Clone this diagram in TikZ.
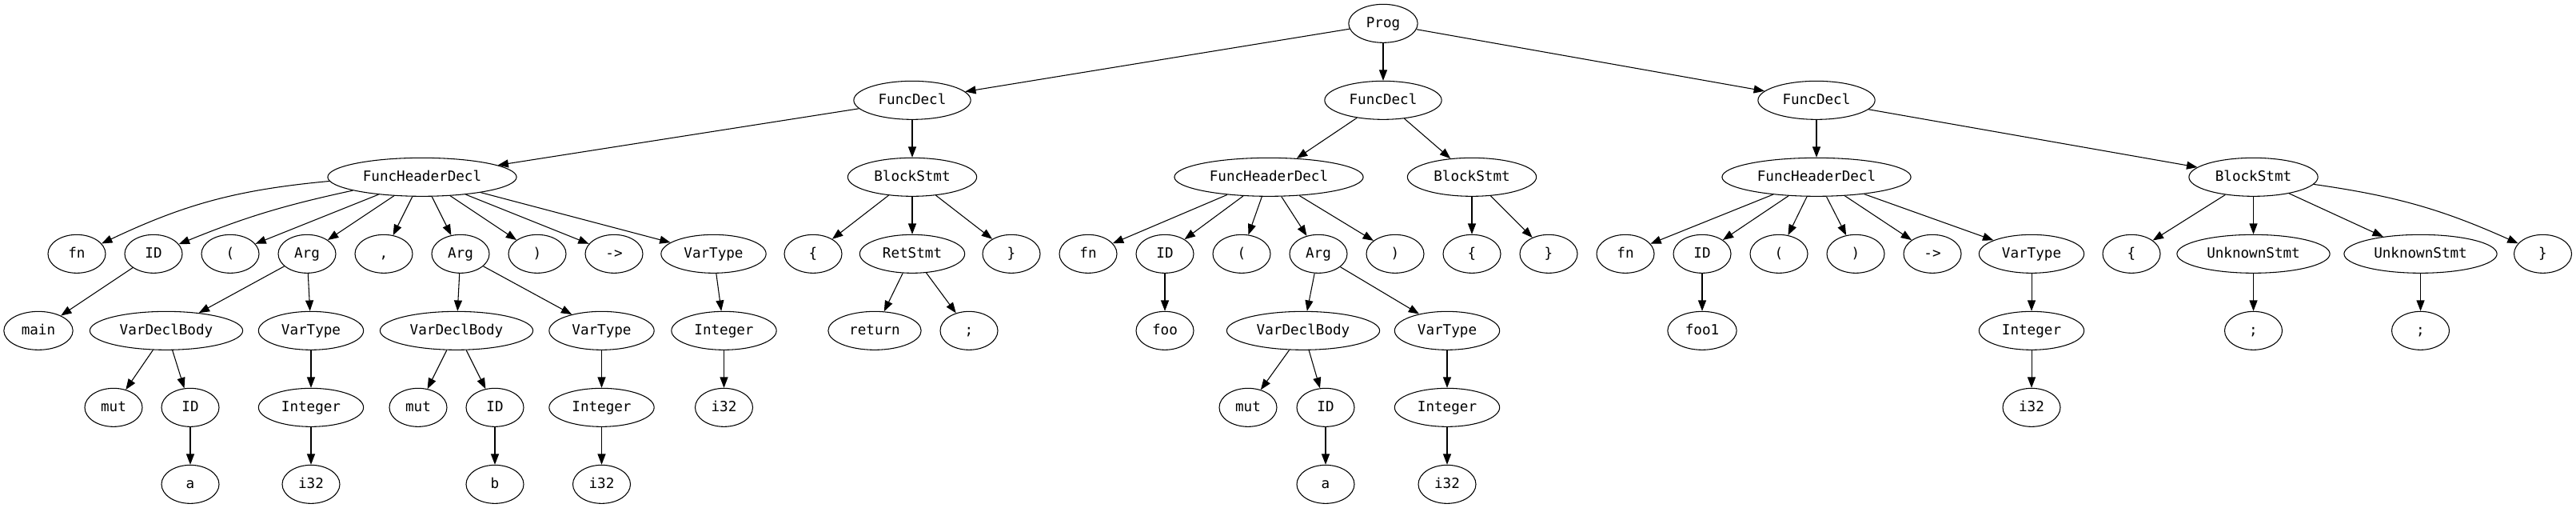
\documentclass[tikz,border=0pt]{standalone}
\usepackage{fontspec}
\setmonofont{DejaVu Sans Mono}
\usetikzlibrary{arrows.meta,shapes}
\tikzset{
>={Triangle[length=10pt,width=7.5pt]},
ast/.style={draw,ellipse,line width=0.8pt,minimum width=54pt,minimum height=36pt,
  inner xsep=7pt,text height=10pt,text depth=2pt,font=\ttfamily\fontsize{13.2}{15}\selectfont}
}

\begin{document}
\begin{tikzpicture}[x=0.75pt,y=-72pt]
\useasboundingbox (0pt,22pt) rectangle (2416.5pt,-454.25pt);
% top
\node[ast] (prog) at (1730,0) {Prog};
\node[ast] (fd1)  at (1141,1) {FuncDecl};
\node[ast] (fd2)  at (1730,1) {FuncDecl};
\node[ast] (fd3)  at (2272,1) {FuncDecl};
\node[ast] (fhd1) at (528,2)  {FuncHeaderDecl};
\node[ast] (bs1)  at (1141,2) {BlockStmt};
\node[ast] (fhd2) at (1587,2) {FuncHeaderDecl};
\node[ast] (bs2)  at (1841,2) {BlockStmt};
\node[ast] (fhd3) at (2272,2) {FuncHeaderDecl};
\node[ast] (bs3)  at (2818.5,2) {BlockStmt};
% row 3
\node[ast] (fn1)   at (96,3)   {fn};
\node[ast] (id1)   at (192,3)  {ID};
\node[ast] (lp1)   at (288,3)  {(};
\node[ast] (arg1)  at (384,3)  {Arg};
\node[ast] (comma) at (480,3)  {,};
\node[ast] (arg2)  at (576,3)  {Arg};
\node[ast] (rp1)   at (672,3)  {)};
\node[ast] (arr1)  at (768,3)  {->};
\node[ast] (vt1)   at (892.5,3) {VarType};
\node[ast] (lb1)   at (1017,3) {\{};
\node[ast] (ret)   at (1141,3) {RetStmt};
\node[ast] (rb1)   at (1265,3) {\}};
\node[ast] (fn2)   at (1361,3) {fn};
\node[ast] (id2)   at (1457,3) {ID};
\node[ast] (lp2)   at (1553,3) {(};
\node[ast] (arg3)  at (1649,3) {Arg};
\node[ast] (rp2)   at (1745,3) {)};
\node[ast] (lb2)   at (1841,3) {\{};
\node[ast] (rb2)   at (1937,3) {\}};
\node[ast] (fn3)   at (2033,3) {fn};
\node[ast] (id3)   at (2129,3) {ID};
\node[ast] (lp3)   at (2225,3) {(};
\node[ast] (rp3)   at (2321,3) {)};
\node[ast] (arr3)  at (2417,3) {->};
\node[ast] (vt3)   at (2541,3) {VarType};
\node[ast] (lb3)   at (2666,3) {\{};
\node[ast] (us1)   at (2818.5,3) {UnknownStmt};
\node[ast] (us2)   at (3027.5,3) {UnknownStmt};
\node[ast] (rb3)   at (3180.5,3) {\}};
% row 4
\node[ast] (main)  at (48,4)    {main};
\node[ast] (vdb1)  at (208,4)   {VarDeclBody};
\node[ast] (vt1b)  at (389,4)   {VarType};
\node[ast] (vdb2)  at (571,4)   {VarDeclBody};
\node[ast] (vt2)   at (752.5,4) {VarType};
\node[ast] (int1)  at (905.5,4) {Integer};
\node[ast] (retkw) at (1094,4)  {return};
\node[ast] (semi1) at (1212,4)  {;};
\node[ast] (foo)   at (1457,4)  {foo};
\node[ast] (vdb3)  at (1630,4)  {VarDeclBody};
\node[ast] (vt4)   at (1810,4)  {VarType};
\node[ast] (foo1)  at (2129,4)  {foo1};
\node[ast] (int3)  at (2541,4)  {Integer};
\node[ast] (semi2) at (2818.5,4) {;};
\node[ast] (semi3) at (3027.5,4) {;};
% row 5
\node[ast] (mut1)  at (142,5)   {mut};
\node[ast] (id1b)  at (238,5)   {ID};
\node[ast] (int1b) at (389,5)   {Integer};
\node[ast] (mut2)  at (523,5)   {mut};
\node[ast] (id2b)  at (619,5)   {ID};
\node[ast] (int2)  at (752.5,5) {Integer};
\node[ast] (i32a)  at (905.5,5) {i32};
\node[ast] (mut3)  at (1561,5)  {mut};
\node[ast] (id3b)  at (1658,5)  {ID};
\node[ast] (int4)  at (1810,5)  {Integer};
\node[ast] (i32c)  at (2541,5)  {i32};
% row 6
\node[ast] (a1)    at (238,6)   {a};
\node[ast] (i32b)  at (389,6)   {i32};
\node[ast] (b)     at (619,6)   {b};
\node[ast] (i32d)  at (752.5,6) {i32};
\node[ast] (a2)    at (1658,6)  {a};
\node[ast] (i32e)  at (1810,6)  {i32};

\path[->,line width=0.8pt]
      (prog) edge (fd1) edge (fd2) edge (fd3)
      (fd1)  edge (fhd1) edge (bs1)
      (fd2)  edge (fhd2) edge (bs2)
      (fd3)  edge (fhd3) edge (bs3)
      (fhd1) edge[bend right=10] (fn1) edge[bend right=5] (id1) edge (lp1) edge (arg1)
             edge (comma) edge (arg2) edge (rp1) edge (arr1) edge (vt1)
      (id1)  edge (main)
      (arg1) edge (vdb1) edge (vt1b)
      (vdb1) edge (mut1) edge (id1b)
      (id1b) edge (a1)
      (vt1b) edge (int1b)
      (int1b) edge (i32b)
      (arg2) edge (vdb2) edge (vt2)
      (vdb2) edge (mut2) edge (id2b)
      (id2b) edge (b)
      (vt2)  edge (int2)
      (int2) edge (i32d)
      (vt1)  edge (int1)
      (int1) edge (i32a)
      (bs1)  edge (lb1) edge (ret) edge (rb1)
      (ret)  edge (retkw) edge (semi1)
      (fhd2) edge (fn2) edge (id2) edge (lp2) edge (arg3) edge (rp2)
      (id2)  edge (foo)
      (arg3) edge (vdb3) edge (vt4)
      (vdb3) edge (mut3) edge (id3b)
      (id3b) edge (a2)
      (vt4)  edge (int4)
      (int4) edge (i32e)
      (bs2)  edge (lb2) edge (rb2)
      (fhd3) edge (fn3) edge (id3) edge (lp3) edge (rp3) edge (arr3) edge (vt3)
      (id3)  edge (foo1)
      (vt3)  edge (int3)
      (int3) edge (i32c)
      (bs3)  edge (lb3) edge (us1) edge (us2) edge[bend left=8] (rb3)
      (us1)  edge (semi2)
      (us2)  edge (semi3);
\end{tikzpicture}
\end{document}
